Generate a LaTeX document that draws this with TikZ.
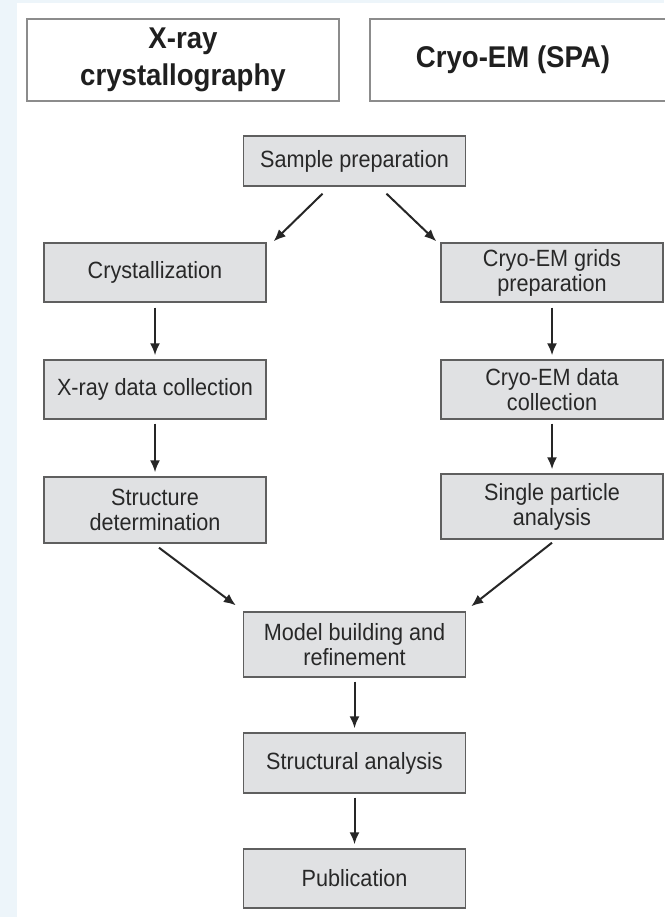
\documentclass[tikz,border=0pt]{standalone}
\usepackage{fontspec}
\setmainfont{Liberation Sans}
\newfontfamily\narrowsans[FakeStretch=0.92]{Liberation Sans}
\usetikzlibrary{arrows.meta}
\definecolor{bgblue}{RGB}{237,245,250}
\definecolor{boxgray}{RGB}{224,225,227}
\definecolor{edgegray}{RGB}{95,95,95}
\definecolor{headgray}{RGB}{140,140,140}
\definecolor{textgray}{RGB}{40,40,40}

\begin{document}
\begin{tikzpicture}[
    x=1pt, y=1pt,
    stepbox/.style={draw=edgegray, line width=1.4pt, fill=boxgray, text=textgray,
        align=center, inner sep=0pt, minimum width=222pt,
        font=\narrowsans\fontsize{23.5}{25}\selectfont},
    headbox/.style={text=black!88, align=center,
        font=\narrowsans\bfseries\fontsize{30}{37}\selectfont},
    headline/.style={draw=headgray, line width=1.6pt},
    flow/.style={-{Latex[length=12pt,width=10pt]}, line width=2pt, black!85}
]
\useasboundingbox (0,0) rectangle (664,-917);
\fill[bgblue] (0,0) rectangle (664,-917);
\fill[white] (17,-3) rectangle (664,-917);

% headers
\node[headbox, headline, minimum width=312pt, minimum height=82pt] (xray) at (183,-60) {X-ray\\crystallography};
\draw[headline] (370,-19) rectangle (700,-101);
\node[headbox] (cryo) at (513,-60) {Cryo-EM (SPA)};

% steps
\node[stepbox, minimum height=50pt] (sample) at (354.5,-161) {Sample preparation};
\node[stepbox, minimum height=59pt] (crys) at (155,-272.5) {Crystallization};
\node[stepbox, minimum height=59pt] (xdata) at (155,-389.5) {X-ray data collection};
\node[stepbox, minimum height=66pt] (sdet) at (155,-510) {Structure\\determination};
\node[stepbox, minimum height=59pt] (grids) at (552,-272.5) {Cryo-EM grids\\preparation};
\node[stepbox, minimum height=59pt] (cdata) at (552,-389.5) {Cryo-EM data\\collection};
\node[stepbox, minimum height=65pt] (spa) at (552,-506.5) {Single particle\\analysis};
\node[stepbox, minimum height=65pt] (model) at (354.5,-644.5) {Model building and\\refinement};
\node[stepbox, minimum height=60pt] (sanal) at (354.5,-763) {Structural analysis};
\node[stepbox, minimum height=59pt] (pub) at (354.5,-878.5) {Publication};

% arrows
\draw[flow] ([xshift=-32pt,yshift=-7pt]sample.south) -- ([xshift=7pt,yshift=1pt]crys.north east);
\draw[flow] ([xshift=32pt,yshift=-7pt]sample.south) -- ([xshift=-4pt,yshift=1pt]grids.north west);
\draw[flow, shorten <=5pt, shorten >=4pt] (crys) -- (xdata);
\draw[flow, shorten <=4pt, shorten >=4pt] (xdata) -- (sdet);
\draw[flow, shorten <=5pt, shorten >=4pt] (grids) -- (cdata);
\draw[flow, shorten <=4pt, shorten >=4pt] (cdata) -- (spa);
\draw[flow] ([xshift=4pt,yshift=-4pt]sdet.south) -- ([xshift=-7pt,yshift=6pt]model.north west);
\draw[flow] ([yshift=-3pt]spa.south) -- ([xshift=5pt,yshift=5pt]model.north east);
\draw[flow, shorten <=4pt, shorten >=4pt] (model) -- (sanal);
\draw[flow, shorten <=4pt, shorten >=4pt] (sanal) -- (pub);
\end{tikzpicture}
\end{document}
